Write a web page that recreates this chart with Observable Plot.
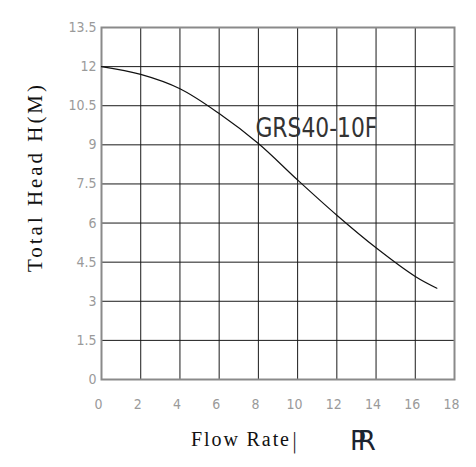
<!DOCTYPE html>
<html><head><meta charset="utf-8">
<script src="https://cdn.jsdelivr.net/npm/d3@7"></script>
<script src="https://cdn.jsdelivr.net/npm/@observablehq/plot@0.6"></script>
<style>
body{margin:0;background:#fff}
</style>
</head><body>
<div id="chart"></div>
<script>
// Data
const flow = [0, 2, 4, 6, 8, 10, 12, 14, 16, 17.1];
const head = [12, 11.7, 11.15, 10.2, 9.05, 7.65, 6.3, 5.05, 3.95, 3.5];
const xTicks = [0, 2, 4, 6, 8, 10, 12, 14, 16, 18];
const yTicks = [0, 1.5, 3, 4.5, 6, 7.5, 9, 10.5, 12, 13.5];
const curveName = "GRS40-10F";
const curveLabelAt = {x: 7.85, y: 9.3};
const yTitle = "Total Head H(M)";
const xTitle = "Flow Rate";
const logo = "PR";

const pts = flow.map((f, i) => ({flow: f, head: head[i]}));

const plot = Plot.plot({
  width: 476,
  height: 467,
  marginLeft: 101,
  marginRight: 22,
  marginTop: 27,
  marginBottom: 88,
  style: {background: "#fff"},
  x: {domain: [0, 18], ticks: xTicks, label: null},
  y: {domain: [0, 13.5], ticks: yTicks, label: null},
  marks: [
    Plot.gridX(xTicks, {stroke: "#1a1a1a", strokeOpacity: 1, strokeWidth: 1}),
    Plot.gridY(yTicks, {stroke: "#1a1a1a", strokeOpacity: 1, strokeWidth: 1}),
    Plot.frame({stroke: "#8a8a8a", strokeWidth: 2}),
    Plot.axisX(xTicks, {tickSize: 0, tickPadding: 20, tickFormat: d => String(d), fill: "#9a9a9a", fontSize: 14, fontFamily: "DejaVu Sans Condensed", dx: -3, label: null}),
    Plot.axisY(yTicks, {tickSize: 0, tickPadding: 5, tickFormat: d => String(d), fill: "#9a9a9a", fontSize: 14, fontFamily: "DejaVu Sans Condensed", label: null}),
    Plot.line(pts, {x: "flow", y: "head", curve: "catmull-rom", stroke: "#111", strokeWidth: 1.2}),
    Plot.text([curveName], {x: () => curveLabelAt.x, y: () => curveLabelAt.y, text: d => d, textAnchor: "start", lineAnchor: "bottom", fontSize: 27, fontFamily: "DejaVu Sans Condensed", fontWeight: 200, fill: "#333", className: "curve-label"}),
    Plot.text([yTitle], {frameAnchor: "left", text: d => d, rotate: -90, textAnchor: "middle", dx: -66, dy: -25, fontSize: 21, fontFamily: "Liberation Serif", fill: "#111", className: "y-title"}),
    Plot.text([xTitle], {frameAnchor: "bottom", text: d => d, textAnchor: "start", lineAnchor: "bottom", dx: -87, dy: 66, fontSize: 20, fontFamily: "Liberation Serif", fill: "#111", className: "x-title"}),
    Plot.text(["|"], {frameAnchor: "bottom", text: d => d, textAnchor: "start", lineAnchor: "bottom", dx: 13, dy: 68, fontSize: 21, fontFamily: "DejaVu Sans", fontWeight: 200, fill: "#111"}),
    Plot.text([logo], {frameAnchor: "bottom", text: d => d, textAnchor: "start", lineAnchor: "bottom", dx: 72, dy: 70, fontSize: 26, fontFamily: "DejaVu Sans", fill: "#1c2330", className: "logo"})
  ]
});
document.getElementById("chart").appendChild(plot);
d3.select(plot).selectAll(".curve-label text").attr("textLength", 122).attr("lengthAdjust", "spacingAndGlyphs");
d3.select(plot).selectAll(".y-title text").attr("textLength", 187).attr("lengthAdjust", "spacing");
d3.select(plot).selectAll(".x-title text").attr("textLength", 98).attr("lengthAdjust", "spacing");
d3.select(plot).selectAll(".logo text").style("letter-spacing", "-8px");
</script>
</body></html>
